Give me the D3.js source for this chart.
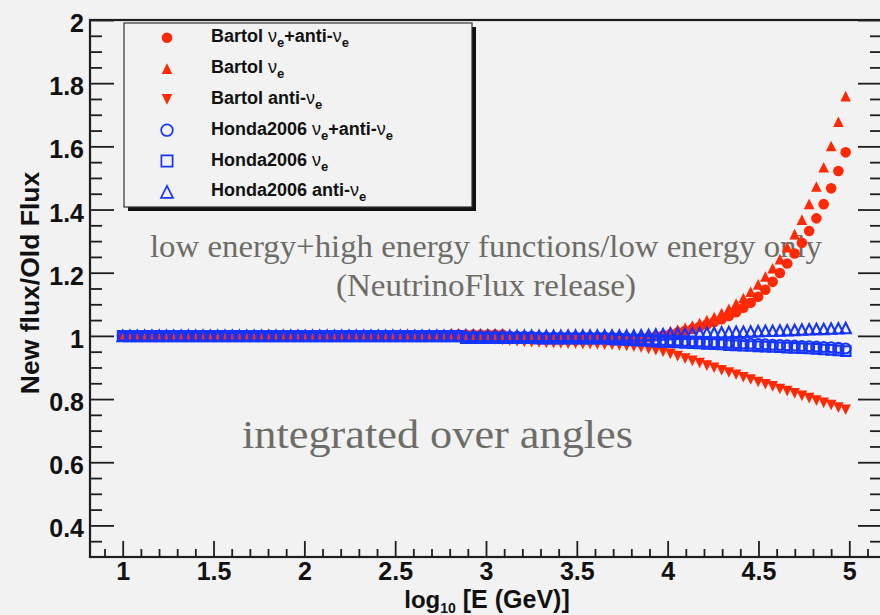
<!DOCTYPE html>
<html>
<head>
<meta charset="utf-8">
<title>New flux / Old flux</title>
<script src="https://cdn.jsdelivr.net/npm/d3@7/dist/d3.min.js"></script>
<style>
  html, body { margin: 0; padding: 0; background: #f2f2f2; }
  svg { display: block; }
</style>
</head>
<body>
<svg id="chart" width="880" height="615"></svg>
<script>
// log10 of the neutrino energy in GeV, shared by every ratio curve
const logE = [
  1.000,1.040,1.080,1.121,1.161,1.201,1.241,1.281,1.322,1.362,
  1.402,1.442,1.482,1.523,1.563,1.603,1.643,1.683,1.724,1.764,
  1.804,1.844,1.884,1.925,1.965,2.005,2.045,2.085,2.126,2.166,
  2.206,2.246,2.286,2.327,2.367,2.407,2.447,2.487,2.528,2.568,
  2.608,2.648,2.688,2.729,2.769,2.809,2.849,2.889,2.930,2.970,
  3.010,3.050,3.091,3.131,3.171,3.211,3.251,3.292,3.332,3.372,
  3.412,3.452,3.493,3.533,3.573,3.613,3.653,3.694,3.734,3.774,
  3.814,3.854,3.895,3.935,3.975,4.015,4.055,4.096,4.136,4.176,
  4.216,4.256,4.297,4.337,4.377,4.417,4.457,4.498,4.538,4.578,
  4.618,4.658,4.699,4.739,4.779,4.819,4.859,4.900,4.940,4.980
];

// Bartol flux ratios (low+high energy functions / low energy only)
const bartolSum = [
  1,1,1,1,1,1,1,1,1,1,
  1,1,1,1,1,1,1,1,1,1,
  1,1,1,1,1,1,1,1,1,1,
  1,1,1,1,1,1,1,1,1,1,
  1,1,1,1,1,1.004,1.004,1.004,1.004,1.004,
  1.004,1.004,1.004,0.997,0.995,0.993,0.993,0.993,0.993,0.993,
  0.993,0.993,0.993,0.993,0.993,0.993,0.993,0.993,0.993,0.993,
  0.993,0.994,0.996,0.999,1.002,1.006,1.011,1.016,1.022,1.029,
  1.036,1.044,1.053,1.063,1.075,1.089,1.105,1.124,1.146,1.171,
  1.199,1.229,1.261,1.295,1.332,1.372,1.417,1.467,1.522,1.581
];
const bartolNuE = [
  1,1,1,1,1,1,1,1,1,1,
  1,1,1,1,1,1,1,1,1,1,
  1,1,1,1,1,1,1,1,1,1,
  1,1,1,1,1,1,1,1,1,1,
  1,1,1,1,1,1.008,1.008,1.008,1.008,1.008,
  1.008,1.008,1.008,1,1,1,1,1,1,1,
  1,1,1,1,1,1,1,1,1,1,
  1.000,1.001,1.003,1.006,1.010,1.015,1.020,1.026,1.033,1.041,
  1.050,1.060,1.072,1.086,1.102,1.120,1.140,1.163,1.188,1.214,
  1.243,1.281,1.322,1.368,1.418,1.473,1.534,1.601,1.678,1.759
];
const bartolAntiNuE = [
  1,1,1,1,1,1,1,1,1,1,
  1,1,1,1,1,1,1,1,1,1,
  1,1,1,1,1,1,1,1,1,1,
  1,1,1,1,1,1,1,1,1,1,
  1,1,1,1,1,1,0.999,0.997,0.995,0.993,
  0.991,0.989,0.987,0.985,0.983,0.981,0.980,0.979,0.978,0.977,
  0.976,0.975,0.975,0.974,0.974,0.973,0.972,0.971,0.970,0.968,
  0.966,0.963,0.959,0.955,0.950,0.943,0.936,0.928,0.921,0.914,
  0.906,0.899,0.891,0.884,0.877,0.869,0.862,0.854,0.847,0.840,
  0.832,0.825,0.818,0.810,0.803,0.795,0.788,0.781,0.773,0.766
];

// Honda2006 flux ratios
const hondaSum = [
  1,1,1,1,1,1,1,1,1,1,
  1,1,1,1,1,1,1,1,1,1,
  1,1,1,1,1,1,1,1,1,1,
  1,1,1,1,1,1,1,1,1,1,
  1,1,1,1,1,1,1,0.997,0.997,0.997,
  0.997,0.997,0.997,0.997,0.997,0.997,0.997,0.995,0.995,0.995,
  0.995,0.995,0.995,0.995,0.995,0.995,0.995,0.994,0.993,0.992,
  0.991,0.990,0.989,0.988,0.987,0.986,0.985,0.984,0.983,0.982,
  0.981,0.980,0.979,0.978,0.977,0.976,0.975,0.974,0.973,0.972,
  0.971,0.970,0.969,0.968,0.967,0.966,0.965,0.964,0.962,0.960
];
const hondaNuE = [
  1,1,1,1,1,1,1,1,1,1,
  1,1,1,1,1,1,1,1,1,1,
  1,1,1,1,1,1,1,1,1,1,
  1,1,1,1,1,1,1,1,1,1,
  1,1,1,1,1,1,1,0.993,0.993,0.993,
  0.993,0.993,0.993,0.993,0.993,0.993,0.993,0.991,0.991,0.991,
  0.991,0.991,0.991,0.991,0.991,0.991,0.991,0.989,0.988,0.987,
  0.986,0.985,0.984,0.982,0.981,0.980,0.979,0.978,0.977,0.976,
  0.975,0.974,0.973,0.971,0.970,0.969,0.968,0.967,0.966,0.965,
  0.964,0.963,0.962,0.961,0.960,0.959,0.957,0.956,0.954,0.952
];
const hondaAntiNuE = [
  1,1,1,1,1,1,1,1,1,1,
  1,1,1,1,1,1,1,1,1,1,
  1,1,1,1,1,1,1,1,1,1,
  1,1,1,1,1,1,1,1,1,1,
  1,1,1,1,1,1,1,1,1,1,
  1,1,1,1,1,1,1,1,1,1,
  1.000,1.001,1.001,1.001,1.001,1.001,1.001,1.001,1.001,1.001,
  1.001,1.002,1.003,1.004,1.005,1.006,1.007,1.007,1.008,1.009,
  1.010,1.010,1.011,1.012,1.013,1.013,1.014,1.015,1.016,1.016,
  1.017,1.018,1.019,1.020,1.021,1.022,1.022,1.023,1.024,1.025
];

const seriesNames = [
  "Bartol ν_e+anti-ν_e", "Bartol ν_e", "Bartol anti-ν_e",
  "Honda2006 ν_e+anti-ν_e", "Honda2006 ν_e", "Honda2006 anti-ν_e"
];

const xTickLabels = ["1", "1.5", "2", "2.5", "3", "3.5", "4", "4.5", "5"];
const yTickLabels = ["0.4", "0.6", "0.8", "1", "1.2", "1.4", "1.6", "1.8", "2"];

const xAxisTitle = ["log", "10", " [E (GeV)]"];
const yAxisTitle = "New flux/Old Flux";
const noteLines = ["low energy+high energy functions/low energy only", "(NeutrinoFlux release)"];
const noteAngles = "integrated over angles";

// ---------------------------------------------------------------- layout
const W = 880, H = 615;
const frame = { left: 90, top: 20, right: 882, bottom: 557 };
const RED = "#ff2a05", BLUE = "#1634ff", INK = "#1e1e1e", NOTE = "#6d6c66";
const SANS = "'Liberation Sans', Arial, Helvetica, sans-serif";
const SERIF = "'Liberation Serif', 'Times New Roman', serif";

const x = d3.scaleLinear().domain([0.82, 5.18]).range([frame.left, frame.right]);
const y = d3.scaleLinear().domain([0.3, 2.0]).range([frame.bottom, frame.top]);

const svg = d3.select("#chart");
svg.append("rect").attr("width", W).attr("height", H).attr("fill", "#f2f2f2");

// marker outlines centred on (0,0)
function markerPath(shape, s) {
  switch (shape) {
    case "circle": return `M${-s},0A${s},${s} 0 1,0 ${s},0A${s},${s} 0 1,0 ${-s},0Z`;
    case "square": return `M${-s},${-s}H${s}V${s}H${-s}Z`;
    case "triUp": return `M0,${-s}L${s},${s}L${-s},${s}Z`;
    case "triDown": return `M0,${s}L${s},${-s}L${-s},${-s}Z`;
  }
}

const series = [
  { values: bartolSum,     shape: "circle",  color: RED,  filled: true,  size: 5.3 },
  { values: bartolNuE,     shape: "triUp",   color: RED,  filled: true,  size: 5.3 },
  { values: bartolAntiNuE, shape: "triDown", color: RED,  filled: true,  size: 5.3 },
  { values: hondaSum,      shape: "circle",  color: BLUE, filled: false, size: 5.0 },
  { values: hondaNuE,      shape: "square",  color: BLUE, filled: false, size: 4.8 },
  { values: hondaAntiNuE,  shape: "triUp",   color: BLUE, filled: false, size: 5.2 }
];
const OPEN_STROKE = 2.1;

// ---------------------------------------------------------------- annotations
const notes = svg.append("g").attr("font-family", SERIF).attr("fill", NOTE);
notes.append("text").attr("x", 486).attr("y", 256.5).attr("text-anchor", "middle")
  .attr("font-size", 32.5).attr("textLength", 672).attr("lengthAdjust", "spacingAndGlyphs")
  .text(noteLines[0]);
notes.append("text").attr("x", 486).attr("y", 295.5).attr("text-anchor", "middle")
  .attr("font-size", 32.5).attr("textLength", 300).attr("lengthAdjust", "spacingAndGlyphs")
  .text(noteLines[1]);
notes.append("text").attr("x", 437.5).attr("y", 447.5).attr("text-anchor", "middle")
  .attr("font-size", 41).attr("textLength", 391).attr("lengthAdjust", "spacingAndGlyphs")
  .text(noteAngles);

// ---------------------------------------------------------------- data markers
const plot = svg.append("g");
series.forEach(s => {
  plot.append("g").selectAll("path")
    .data(s.values.map((v, i) => [logE[i], v]))
    .join("path")
    .attr("transform", d => `translate(${x(d[0])},${y(d[1])})`)
    .attr("d", markerPath(s.shape, s.size))
    .attr("fill", s.filled ? s.color : "none")
    .attr("stroke", s.filled ? "none" : s.color)
    .attr("stroke-width", s.filled ? 0 : OPEN_STROKE);
});

// ---------------------------------------------------------------- axes
const xMajor = xTickLabels.map(Number);
const yMajor = yTickLabels.map(Number);
const xMinor = d3.range(9, 52).map(v => v / 10).filter(v => Math.round(v * 10) % 5 !== 0);
const yMinor = d3.range(7, 41).map(v => v / 20).filter(v => Math.round(v * 20) % 4 !== 0);

function styleAxis(g) {
  g.attr("color", INK).attr("font-family", null).attr("font-size", null);
  g.select(".domain").remove();
  g.selectAll("line").attr("stroke-width", 1.8);
  g.selectAll("text").style("font-family", SANS).style("font-weight", "bold")
    .style("font-size", "25px").attr("fill", "#111");
}

svg.append("g").attr("transform", `translate(0,${frame.bottom})`)
  .call(d3.axisBottom(x).tickValues(xMajor).tickSize(-16).tickSizeOuter(0).tickPadding(5)
    .tickFormat((d, i) => xTickLabels[i]))
  .call(styleAxis);
svg.append("g").attr("transform", `translate(0,${frame.bottom})`)
  .call(d3.axisBottom(x).tickValues(xMinor).tickSize(-8).tickSizeOuter(0).tickFormat(""))
  .call(styleAxis);

svg.append("g").attr("transform", `translate(${frame.left},0)`)
  .call(d3.axisLeft(y).tickValues(yMajor).tickSize(-24).tickSizeOuter(0).tickPadding(6)
    .tickFormat((d, i) => yTickLabels[i]))
  .call(styleAxis)
  .call(g => g.selectAll("text").attr("dy", "0.46em"));
svg.append("g").attr("transform", `translate(${frame.left},0)`)
  .call(d3.axisLeft(y).tickValues(yMinor).tickSize(-12).tickSizeOuter(0).tickFormat(""))
  .call(styleAxis);

svg.append("g").attr("transform", `translate(${frame.right},0)`)
  .call(d3.axisRight(y).tickValues(yMajor).tickSize(-24).tickSizeOuter(0).tickFormat(""))
  .call(styleAxis);
svg.append("g").attr("transform", `translate(${frame.right},0)`)
  .call(d3.axisRight(y).tickValues(yMinor).tickSize(-12).tickSizeOuter(0).tickFormat(""))
  .call(styleAxis);

svg.append("rect")
  .attr("x", frame.left).attr("y", frame.top)
  .attr("width", frame.right - frame.left).attr("height", frame.bottom - frame.top)
  .attr("fill", "none").attr("stroke", INK).attr("stroke-width", 2.2);

// axis titles
const xt = svg.append("text").attr("x", 487).attr("y", 608).attr("text-anchor", "middle")
  .attr("font-family", SANS).attr("font-weight", "bold").attr("font-size", 24).attr("fill", "#111");
xt.append("tspan").text(xAxisTitle[0]);
xt.append("tspan").attr("font-size", 14).attr("dy", 5).text(xAxisTitle[1]);
xt.append("tspan").attr("dy", -5).attr("font-size", 25).text(xAxisTitle[2]);

svg.append("text").attr("transform", "translate(39,283) rotate(-90)").attr("text-anchor", "middle")
  .attr("font-family", SANS).attr("font-weight", "bold").attr("font-size", 26.5).attr("fill", "#111")
  .text(yAxisTitle);

// ---------------------------------------------------------------- legend
const lg = { x: 124, y: 23, w: 348, h: 184, row0: 37.8, step: 30.8, mx: 167, tx: 211 };
const legend = svg.append("g");
legend.append("rect").attr("x", lg.x + 4).attr("y", lg.y + 4).attr("width", lg.w).attr("height", lg.h)
  .attr("fill", "#111");
legend.append("rect").attr("x", lg.x).attr("y", lg.y).attr("width", lg.w).attr("height", lg.h)
  .attr("fill", "#f2f2f2").attr("stroke", "#333").attr("stroke-width", 1.2);

seriesNames.forEach((name, i) => {
  const s = series[i];
  const cy = lg.row0 + i * lg.step;
  legend.append("path")
    .attr("transform", `translate(${lg.mx},${cy})`)
    .attr("d", markerPath(s.shape, s.filled ? s.size : s.size + 0.8))
    .attr("fill", s.filled ? s.color : "none")
    .attr("stroke", s.filled ? "none" : s.color)
    .attr("stroke-width", s.filled ? 0 : 1.7);

  const t = legend.append("text").attr("x", lg.tx).attr("y", cy + 4.5)
    .attr("font-family", SANS).attr("font-weight", "bold").attr("font-size", 18).attr("fill", "#111");
  // "ν_e" is the neutrino symbol with a subscript e
  const parts = name.split("ν_e");
  parts.forEach((p, k) => {
    if (p) t.append("tspan").attr("dy", k > 0 ? -5 : 0).text(p);
    if (k < parts.length - 1) {
      t.append("tspan").attr("dy", (k > 0 && !p) ? -5 : 0)
        .attr("font-weight", "normal").attr("font-size", 18).text("ν");
      t.append("tspan").attr("dy", 5).attr("font-size", 13).text("e");
    }
  });
});
</script>
</body>
</html>
